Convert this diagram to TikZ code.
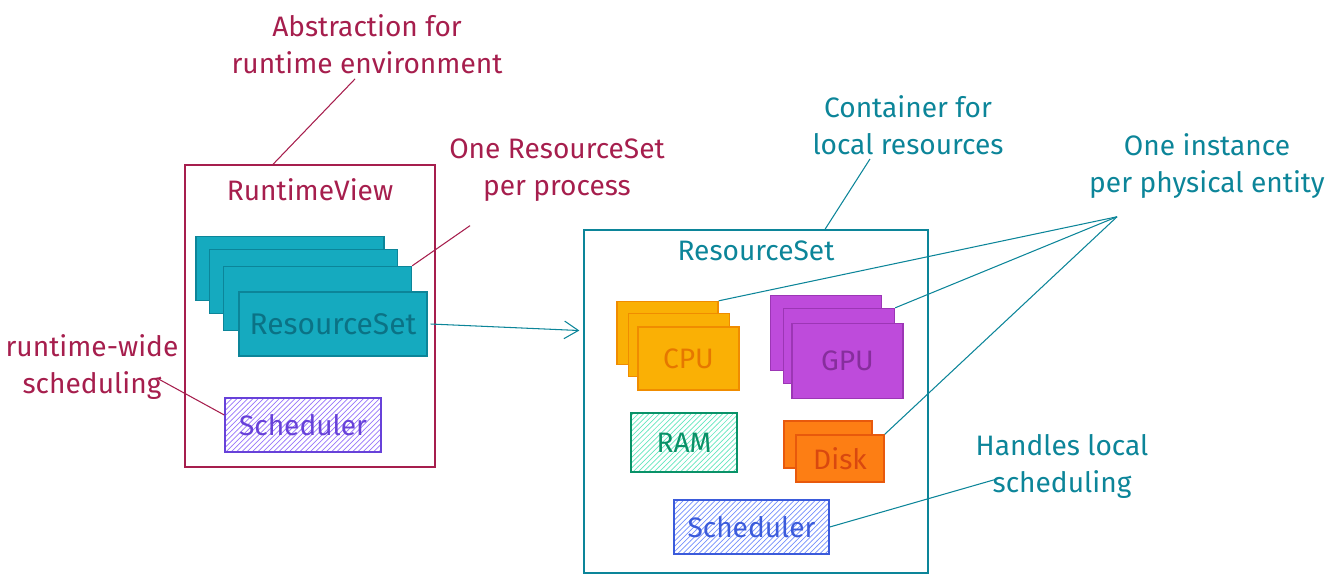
\documentclass[tikz,border=0pt]{standalone}
\usepackage{fontspec}
\setmainfont{Fira Sans}
\usetikzlibrary{positioning,patterns,arrows.meta}
\definecolor{crimson}{HTML}{A61E4D}
\definecolor{tealline}{HTML}{0C8599}
\definecolor{rsfill}{HTML}{15AABF}
\definecolor{rstext}{HTML}{0B7285}
\definecolor{cpufill}{HTML}{FAB005}
\definecolor{cpuline}{HTML}{F08C00}
\definecolor{cputext}{HTML}{E67700}
\definecolor{gpufill}{HTML}{BE4BDB}
\definecolor{gpuline}{HTML}{9C36B5}
\definecolor{gputext}{HTML}{862E9C}
\definecolor{ramline}{HTML}{099268}
\definecolor{ramhatch}{HTML}{63E6BE}
\definecolor{disktext}{HTML}{D9480F}
\definecolor{diskfill}{HTML}{FD7E14}
\definecolor{diskline}{HTML}{E8590C}
\definecolor{violetline}{HTML}{6741D9}
\definecolor{violethatch}{HTML}{9775FA}
\definecolor{blueline}{HTML}{3B5BDB}
\definecolor{bluehatch}{HTML}{748FFC}

\begin{document}
\begin{tikzpicture}[x=0.02cm, y=-0.02cm, font=\fontsize{16}{21}\selectfont,
box/.style={draw, rectangle, line width=0.8pt, inner sep=0pt},
note/.style={align=center, inner sep=0pt},
link/.style={line width=0.6pt},
rset/.style={box, fill=rsfill, draw=tealline, text=rstext, minimum width=3.76cm, minimum height=1.28cm, font=\fontsize{17}{21}\selectfont},
cpu/.style={box, fill=cpufill, draw=cpuline, text=cputext, minimum width=2.02cm, minimum height=1.26cm},
gpu/.style={box, fill=gpufill, draw=gpuline, text=gputext, minimum width=2.22cm, minimum height=1.5cm},
disk/.style={box, fill=diskfill, draw=diskline, text=disktext, minimum width=1.76cm, minimum height=0.94cm},
hatched/.style={box, pattern=north east lines, minimum height=1.08cm}]

\useasboundingbox (0,0) rectangle (1344,583);

% RUNTIME VIEW

\node [box, draw=crimson, minimum width=5cm, minimum height=6.04cm] (runtime-view) at (310,316) {};
\node [below=0.27cm of runtime-view.north, inner sep=0pt, text=crimson] (runtime-view-titulo) {RuntimeView};

\node [rset] (rs-card-1) at (290,268.5) {};
\node [rset] (rs-card-2) at (303.5,281.5) {};
\node [rset] (rs-card-3) at (317.5,298.5) {};
\node [rset] (rs-card-4) at (333,324) {ResourceSet};

\node [hatched, draw=violetline, pattern color=violethatch, text=violetline, minimum width=3.12cm] (scheduler-global) at (303,425) {Scheduler};

% RESOURCE SET

\node [box, draw=tealline, minimum width=6.88cm, minimum height=6.86cm] (resource-set) at (756,401.5) {};
\node [below=0.23cm of resource-set.north, inner sep=0pt, text=tealline] (resource-set-titulo) {ResourceSet};

\node [cpu] (cpu-1) at (667.5,333) {};
\node [cpu] (cpu-2) at (679,345) {};
\node [cpu] (cpu-3) at (688.5,358.5) {CPU};

\node [gpu] (gpu-1) at (826,333) {};
\node [gpu] (gpu-2) at (839,346) {};
\node [gpu] (gpu-3) at (847.5,361) {GPU};

\node [hatched, draw=ramline, pattern color=ramhatch, text=ramline, minimum width=2.12cm, minimum height=1.18cm] (ram) at (684,442.5) {RAM};

\node [disk] (disk-1) at (828,444.5) {};
\node [disk] (disk-2) at (840,458.5) {Disk};

\node [hatched, draw=blueline, pattern color=bluehatch, text=blueline, minimum width=3.1cm] (scheduler-local) at (751.5,527) {Scheduler};

\draw [link, draw=tealline, -{Straight Barb[length=8pt,width=10pt]}] ([xshift=0.06cm]rs-card-4.east) -- ([xshift=-0.08cm, yshift=1.42cm]resource-set.west);

% NOTES

\node [note, text=crimson] (abstraction) at (367,44) {Abstraction for\\runtime environment};
\node [note, text=crimson] (per-process) at (557,170) {One ResourceSet\\per process};
\node [note, text=crimson] (runtime-wide) at (92,367) {runtime-wide\\scheduling};
\node [note, text=tealline] (container) at (908,125) {Container for\\local resources};
\node [note, text=tealline] (instance) at (1207,166) {One instance\\per physical entity};
\node [note, text=tealline] (handles) at (1062,466) {Handles local\\scheduling};

\coordinate (instance-hub) at ([shift={(-1.8cm,-0.36cm)}]instance.south);

\draw [link, crimson] ([shift={(-0.24cm,-0.1cm)}]abstraction.south) -- ([xshift=-0.74cm]runtime-view.north);
\draw [link, crimson] ([shift={(-1.74cm,-0.48cm)}]per-process.south) -- (rs-card-3.north east);
\draw [link, crimson] ([shift={(-0.44cm,-0.22cm)}]runtime-wide.east) -- ([yshift=0.2cm]scheduler-global.west);
\draw [link, tealline] ([xshift=-0.76cm, yshift=-0.08cm]container.south) -- ([xshift=1.38cm]resource-set.north);
\draw [link, tealline] (instance-hub) -- (cpu-1.north east);
\draw [link, tealline] (instance-hub) -- (gpu-2.north east);
\draw [link, tealline] (instance-hub) -- (disk-2.north east);
\draw [link, tealline] ([shift={(0.5cm,-0.24cm)}]handles.west) -- (scheduler-local.east);

\end{tikzpicture}
\end{document}
